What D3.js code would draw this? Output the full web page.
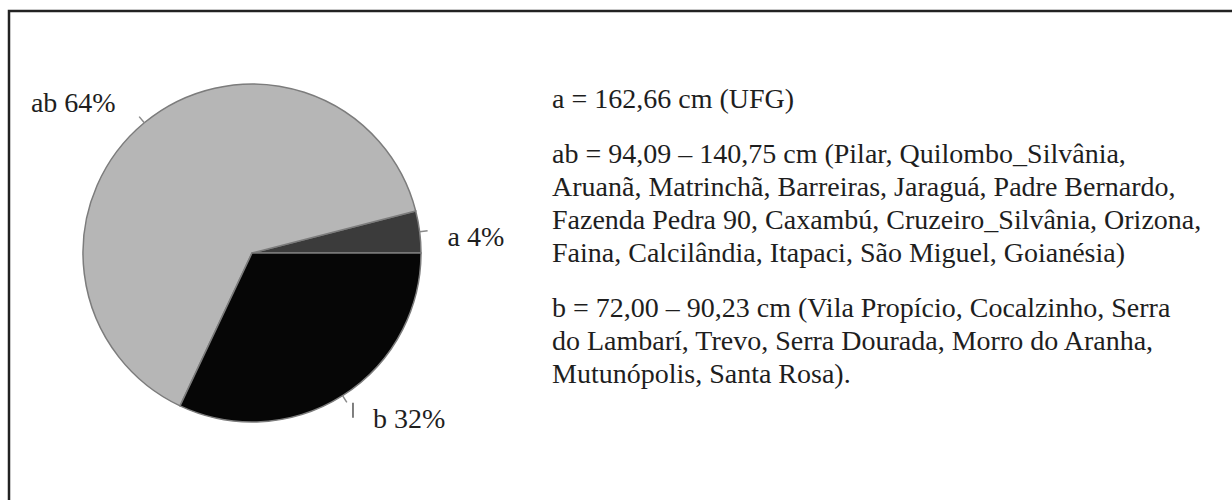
<!DOCTYPE html>
<html>
<head>
<meta charset="utf-8">
<script src="https://cdn.jsdelivr.net/npm/d3@7"></script>
<style>
  body { margin: 0; background: #fff; }
  text { font-family: "Liberation Serif", "Times New Roman", serif; fill: #1e1e1e; }
</style>
</head>
<body>
<svg id="chart"></svg>
<script>
const WIDTH = 1232;
const HEIGHT = 500;
const CENTER = { x: 252, y: 253 };
const RADIUS = 169;
const FONT_SIZE = 28;

// slices, in the order they run counter-clockwise from 3 o'clock
const categories = ["a", "ab", "b"];
const values = [4, 64, 32];
const sliceColors = ["#3b3b3b", "#b6b6b6", "#060606"];

// label nudges from the point just outside the slice middle
const labelDx = [16, -21, 24];
const labelDy = [16, -2, 22];
const labelAnchor = ["start", "end", "start"];

// text block beside the pie: one array per paragraph
const noteA = ["a = 162,66 cm (UFG)"];
const noteAB = [
  "ab = 94,09 – 140,75 cm (Pilar, Quilombo_Silvânia,",
  "Aruanã, Matrinchã, Barreiras, Jaraguá, Padre Bernardo,",
  "Fazenda Pedra 90, Caxambú, Cruzeiro_Silvânia, Orizona,",
  "Faina, Calcilândia, Itapaci, São Miguel, Goianésia)",
];
const noteB = [
  "b = 72,00 – 90,23 cm (Vila Propício, Cocalzinho, Serra",
  "do Lambarí, Trevo, Serra Dourada, Morro do Aranha,",
  "Mutunópolis, Santa Rosa).",
];

const TEXT_X = 552;
const FIRST_BASELINE = 108;
const LINE_GAP = 33;
const PARA_GAP = 55;

const svg = d3.select("#chart").attr("width", WIDTH).attr("height", HEIGHT);

// frame (only top and left edges are inside the picture)
svg
  .append("path")
  .attr("d", `M9,${HEIGHT + 5} V11 H${WIDTH + 5}`)
  .attr("fill", "none")
  .attr("stroke", "#222")
  .attr("stroke-width", 2.5);

const data = categories.map((c, i) => ({ name: c, value: values[i], idx: i }));

// start at 3 o'clock and run counter-clockwise
const pie = d3
  .pie()
  .sort(null)
  .value((d) => d.value)
  .startAngle(Math.PI / 2)
  .endAngle(Math.PI / 2 - 2 * Math.PI);

const arcs = pie(data);
const arc = d3.arc().innerRadius(0).outerRadius(RADIUS);

const g = svg.append("g").attr("transform", `translate(${CENTER.x},${CENTER.y})`);

g.selectAll("path.slice")
  .data(arcs)
  .join("path")
  .attr("class", "slice")
  .attr("d", arc)
  .attr("fill", (d) => sliceColors[d.data.idx])
  .attr("stroke", "#7c7c7c")
  .attr("stroke-width", 1.5);

// point at radius r on the middle of a slice
function midPoint(d, r) {
  const a = (d.startAngle + d.endAngle) / 2;
  return [r * Math.sin(a), -r * Math.cos(a)];
}

// short radial ticks where the labels hang
g.selectAll("line.tick")
  .data(arcs)
  .join("line")
  .attr("class", "tick")
  .attr("x1", (d) => midPoint(d, RADIUS)[0])
  .attr("y1", (d) => midPoint(d, RADIUS)[1])
  .attr("x2", (d) => midPoint(d, RADIUS + 8)[0])
  .attr("y2", (d) => midPoint(d, RADIUS + 8)[1])
  .attr("stroke", "#8a8a8a")
  .attr("stroke-width", 1.5);

// leader piece for the b label
const bArc = arcs.find((d) => d.data.name === "b");
const bp = midPoint(bArc, RADIUS + 12);
g.append("line")
  .attr("x1", bp[0] + 4)
  .attr("x2", bp[0] + 4)
  .attr("y1", bp[1] - 3)
  .attr("y2", bp[1] + 12)
  .attr("stroke", "#555")
  .attr("stroke-width", 1.5);

g.selectAll("text.label")
  .data(arcs)
  .join("text")
  .attr("class", "label")
  .attr("x", (d) => midPoint(d, RADIUS + 12)[0] + labelDx[d.data.idx])
  .attr("y", (d) => midPoint(d, RADIUS + 12)[1] + labelDy[d.data.idx])
  .attr("text-anchor", (d) => labelAnchor[d.data.idx])
  .attr("font-size", FONT_SIZE)
  .text((d) => `${d.data.name} ${d.data.value}%`);

// notes on the right
let y = FIRST_BASELINE;
const lines = [];
[noteA, noteAB, noteB].forEach((para, p) => {
  if (p > 0) y += PARA_GAP - LINE_GAP;
  para.forEach((t) => {
    lines.push({ t, y });
    y += LINE_GAP;
  });
});

svg
  .append("g")
  .selectAll("text")
  .data(lines)
  .join("text")
  .attr("x", TEXT_X)
  .attr("y", (d) => d.y)
  .attr("font-size", FONT_SIZE)
  .text((d) => d.t);
</script>
</body>
</html>
